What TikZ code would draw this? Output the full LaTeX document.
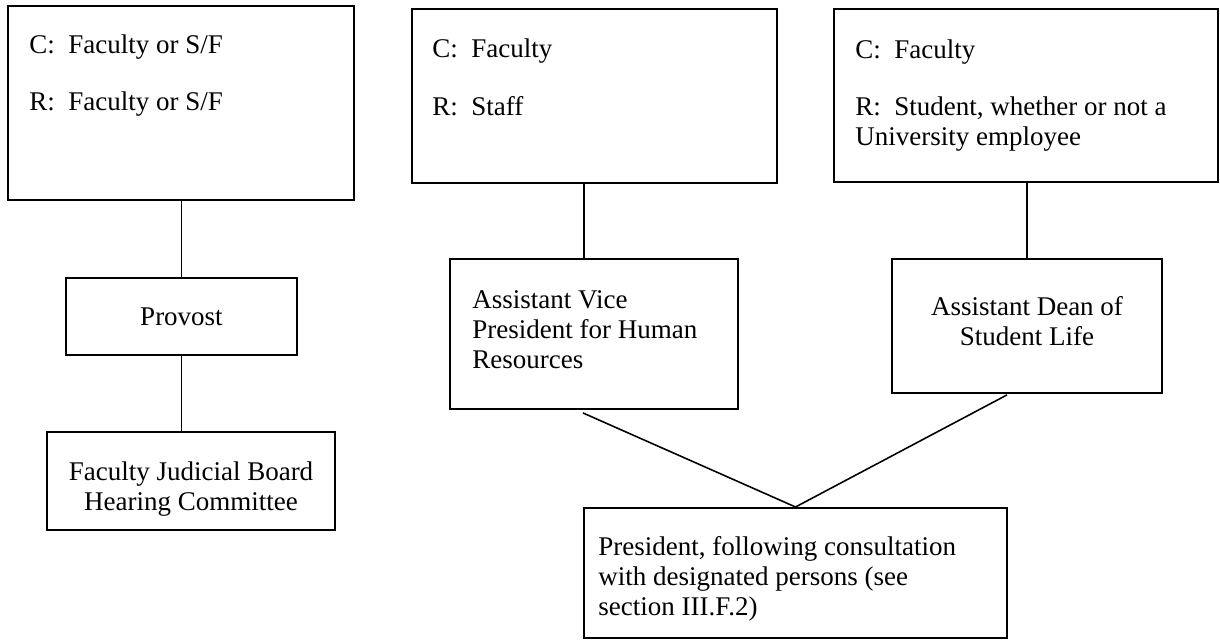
\documentclass[tikz,border=0pt]{standalone}
\usepackage{fontspec}
\setmainfont{Liberation Serif}
\usetikzlibrary{fit}
\tikzset{
  box/.style={draw=black, line width=0.9pt, inner sep=0pt, fill=none},
  conn/.style={draw=black, line width=0.7pt},
  txt/.style={inner sep=0pt, font=\fontsize{12}{13.3}\selectfont, align=left, anchor=base west},
  ctxt/.style={inner sep=0pt, font=\fontsize{12}{13.3}\selectfont, align=center, anchor=base},
}
\begin{document}
\begin{tikzpicture}[x=0.4445pt, y=-0.4445pt]
\useasboundingbox (0,0) rectangle (1220,643);
% boxes
\node[box, fit={(8,6) (354,200)}] (b1) {};
\node[box, fit={(412,9) (777,183)}] (b2) {};
\node[box, fit={(834,9) (1218,182)}] (b3) {};
\node[box, fit={(66,278) (297,355)}] (prov) {};
\node[box, fit={(47,432) (335,530)}] (fjb) {};
\node[box, fit={(450,259) (738,409)}] (avp) {};
\node[box, fit={(892,259) (1162,393)}] (adsl) {};
\node[box, fit={(584,508) (1007,638)}] (pres) {};
% texts (multi-line nodes: base anchor sits on the last line)
\node[txt] (b1c) at (29,53) {C:~~Faculty or S/F};
\node[txt] (b1r) at (29,110) {R:~~Faculty or S/F};
\node[txt] (b2c) at (432,57) {C:~~Faculty};
\node[txt] (b2r) at (432,115) {R:~~Staff};
\node[txt] (b3c) at (855,58) {C:~~Faculty};
\node[txt] (b3r) at (855,145) {R:~~Student, whether or not a\\University employee};
\node[ctxt] (provt) at (181.5,325) {Provost};
\node[ctxt] (fjbt) at (191,510) {Faculty Judicial Board\\Hearing Committee};
\node[txt] (avpt) at (472,368) {Assistant Vice\\President for Human\\Resources};
\node[ctxt] (adslt) at (1027,345) {Assistant Dean of\\Student Life};
\node[txt] (prest) at (598,615) {President, following consultation\\with designated persons (see\\section III.F.2)};
% connectors
\draw[conn] (b1.south -| provt.base) -- (prov.north -| provt.base);
\draw[conn] (prov.south) -- (prov.south |- fjb.north);
\coordinate (b2out) at ([xshift=-4.67pt, yshift=0.9pt]b2.south);
\draw[conn] (b2out) -- (b2out |- avp.north);
\draw[conn] (adsl.north) -- (adsl.north |- b3.south);
\coordinate (avpout) at ([xshift=-4.9pt, yshift=-1.3pt]avp.south);
\coordinate (adslout) at ([xshift=-8.9pt, yshift=-0.4pt]adsl.south);
\draw[conn] (avpout) -- (pres.north) -- (adslout);
\end{tikzpicture}
\end{document}
